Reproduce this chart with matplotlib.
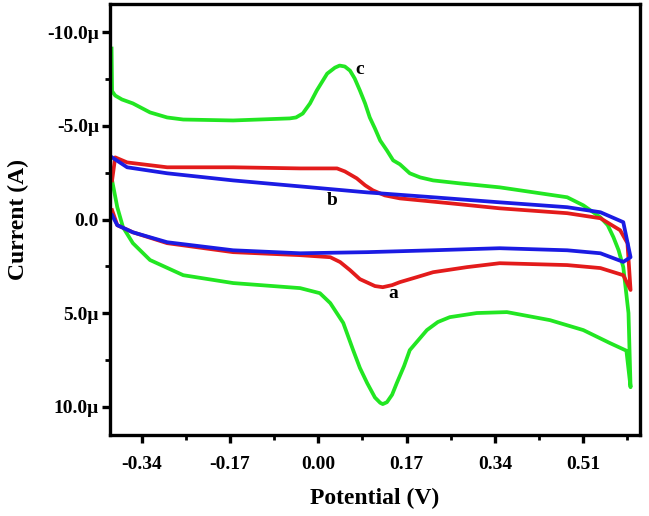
import numpy as np
import matplotlib.pyplot as plt
from matplotlib.ticker import FixedLocator, FixedFormatter

# potential in V, current in microampere
# curve c (green), forward and reverse branch
c_fwd_v = [-0.398, -0.397, -0.391, -0.378, -0.357, -0.324, -0.291, -0.260, -0.164, -0.055,
           -0.043, -0.030, -0.016, -0.003, 0.017, 0.032, 0.041, 0.051, 0.061, 0.070,
           0.080, 0.090, 0.099, 0.109, 0.119, 0.132, 0.144, 0.157, 0.176, 0.196,
           0.221, 0.273, 0.349, 0.479, 0.510, 0.543, 0.557, 0.568, 0.578, 0.587,
           0.597, 0.601]
c_fwd_i = [-9.13, -6.85, -6.62, -6.41, -6.20, -5.72, -5.45, -5.34, -5.29, -5.40,
           -5.45, -5.66, -6.20, -6.89, -7.79, -8.11, -8.22, -8.17, -7.95, -7.53,
           -6.89, -6.20, -5.45, -4.86, -4.22, -3.69, -3.16, -2.95, -2.47, -2.25,
           -2.09, -1.93, -1.72, -1.19, -0.76, -0.12, 0.30, 0.94, 1.64, 2.54,
           4.99, 8.95]
c_rev_v = [0.601, 0.593, 0.561, 0.510, 0.446, 0.363, 0.305, 0.253, 0.230, 0.209,
           0.176, 0.165, 0.151, 0.142, 0.132, 0.124, 0.119, 0.109, 0.094, 0.080,
           0.067, 0.048, 0.023, 0.011, 0.003, -0.035, -0.164, -0.260, -0.324, -0.357,
           -0.376, -0.387, -0.397]
c_rev_i = [8.95, 7.00, 6.59, 5.90, 5.37, 4.94, 4.99, 5.21, 5.47, 5.90,
           6.97, 7.82, 8.73, 9.35, 9.75, 9.85, 9.78, 9.50, 8.73, 7.92,
           6.97, 5.52, 4.46, 4.14, 3.93, 3.66, 3.39, 2.97, 2.16, 1.26,
           0.41, -0.66, -2.09]

# curve a (red)
a_fwd_v = [-0.397, -0.391, -0.368, -0.291, -0.164, -0.035, 0.036, 0.051, 0.074, 0.090,
           0.105, 0.128, 0.157, 0.253, 0.349, 0.479, 0.543, 0.581, 0.595, 0.601]
a_fwd_i = [-2.09, -3.32, -3.05, -2.79, -2.79, -2.73, -2.73, -2.57, -2.20, -1.83,
           -1.56, -1.29, -1.13, -0.87, -0.60, -0.34, -0.07, 0.57, 1.26, 3.76]
a_rev_v = [0.601, 0.587, 0.543, 0.479, 0.349, 0.286, 0.221, 0.190, 0.157, 0.142,
           0.124, 0.109, 0.080, 0.061, 0.042, 0.023, -0.035, -0.164, -0.291, -0.357,
           -0.387, -0.397]
a_rev_i = [3.76, 2.97, 2.59, 2.43, 2.33, 2.54, 2.81, 3.07, 3.34, 3.50,
           3.61, 3.55, 3.18, 2.70, 2.27, 2.01, 1.90, 1.74, 1.26, 0.68,
           0.30, -0.50]

# curve b (blue)
b_fwd_v = [-0.397, -0.368, -0.291, -0.164, -0.035, 0.094, 0.221, 0.349, 0.479, 0.543,
           0.587, 0.601]
b_fwd_i = [-3.32, -2.79, -2.47, -2.09, -1.77, -1.45, -1.19, -0.92, -0.66, -0.39,
           0.14, 2.01]
b_rev_v = [0.601, 0.587, 0.543, 0.479, 0.349, 0.221, 0.094, -0.035, -0.164, -0.291,
           -0.357, -0.387, -0.397]
b_rev_i = [2.01, 2.26, 1.80, 1.64, 1.53, 1.64, 1.74, 1.80, 1.64, 1.21,
           0.68, 0.30, -0.23]

x_ticks = [-0.34, -0.17, 0.00, 0.17, 0.34, 0.51]
x_labels = ["-0.34", "-0.17", "0.00", "0.17", "0.34", "0.51"]
y_ticks = [-10.0, -5.0, 0.0, 5.0, 10.0]
y_labels = ["-10.0\u03bc", "-5.0\u03bc", "0.0", "5.0\u03bc", "10.0\u03bc"]

plt.rcParams["font.family"] = ["Liberation Serif", "DejaVu Serif"]
plt.rcParams["font.weight"] = "bold"

fig = plt.figure(figsize=(6.49, 5.16), dpi=100)
ax = fig.add_axes([0.1695, 0.157, 0.8165, 0.835])

green = "#22e622"
red = "#e31b1b"
blue = "#1b1be3"
lw = 2.7
ax.plot(c_fwd_v + c_rev_v, c_fwd_i + c_rev_i, color=green, lw=lw, solid_joinstyle="round")
ax.plot(a_fwd_v + a_rev_v, a_fwd_i + a_rev_i, color=red, lw=lw, solid_joinstyle="round")
ax.plot(b_fwd_v + b_rev_v, b_fwd_i + b_rev_i, color=blue, lw=lw, solid_joinstyle="round")

ax.text(0.080, -8.0, "c", fontsize=14, fontweight="bold", ha="center", va="center")
ax.text(0.026, -1.03, "b", fontsize=14, fontweight="bold", ha="center", va="center")
ax.text(0.144, 3.93, "a", fontsize=14, fontweight="bold", ha="center", va="center")

ax.set_xlim(-0.401, 0.619)
ax.set_ylim(11.5, -11.5)

ax.xaxis.set_major_locator(FixedLocator(x_ticks))
ax.xaxis.set_major_formatter(FixedFormatter(x_labels))
ax.xaxis.set_minor_locator(FixedLocator([-0.255, -0.085, 0.085, 0.255, 0.425, 0.595]))
ax.yaxis.set_major_locator(FixedLocator(y_ticks))
ax.yaxis.set_major_formatter(FixedFormatter(y_labels))
ax.yaxis.set_minor_locator(FixedLocator([-7.5, -2.5, 2.5, 7.5]))

ax.tick_params(which="major", direction="out", length=6, width=2.4, labelsize=14)
ax.tick_params(axis="x", which="major", pad=9)
ax.tick_params(axis="y", which="major", pad=2)
ax.tick_params(which="minor", direction="out", length=3.5, width=2.0)
for s in ax.spines.values():
    s.set_linewidth(2.4)

ax.set_xlabel("Potential (V)", fontsize=17, fontweight="bold", labelpad=11)
ax.set_ylabel("Current (A)", fontsize=17, fontweight="bold", labelpad=13)

plt.savefig("out.png", dpi=100)
